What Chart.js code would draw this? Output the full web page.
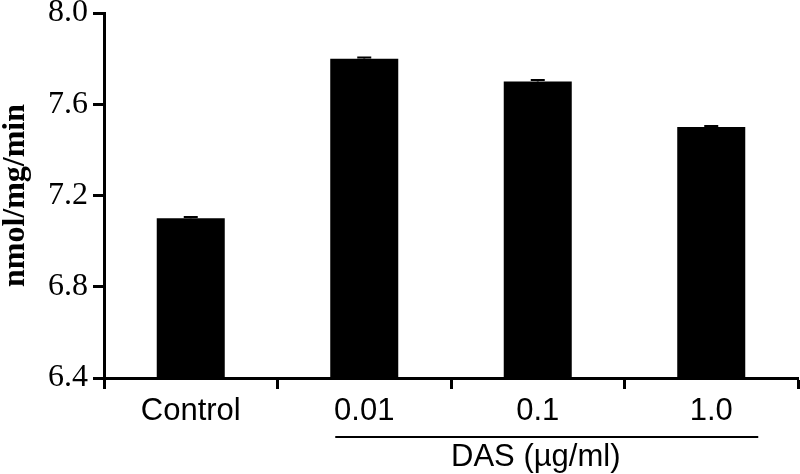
<!DOCTYPE html>
<html>
<head>
<meta charset="utf-8">
<script src="https://cdn.jsdelivr.net/npm/chart.js@4"></script>
<style>
  body { margin: 0; background: #fff; }
  #wrap { width: 800px; height: 474px; position: relative; }
</style>
</head>
<body>
<div id="wrap"><canvas id="activityChart"></canvas></div>
<script>
// data
const categories = ['Control', '0.01', '0.1', '1.0'];
const activity = [7.1, 7.8, 7.7, 7.5];
const activityErr = [0.006, 0.005, 0.006, 0.005];
const yTicks = [6.4, 6.8, 7.2, 7.6, 8.0];
const groupLabel = 'DAS (\u00b5g/ml)';

const serif = '"Liberation Serif", "Times New Roman", serif';
const sans = '"Liberation Sans", Arial, sans-serif';

// small error bars on top of each bar
const errorBars = {
    id: 'errorBars',
    afterDatasetsDraw(chart) {
        const { ctx, scales: { y } } = chart;
        const meta = chart.getDatasetMeta(0);
        ctx.save();
        ctx.strokeStyle = '#000';
        ctx.lineWidth = 2;
        meta.data.forEach((bar, i) => {
            const top = y.getPixelForValue(activity[i] + activityErr[i]);
            ctx.beginPath();
            ctx.moveTo(bar.x, bar.y);
            ctx.lineTo(bar.x, top);
            ctx.moveTo(bar.x - 7, top);
            ctx.lineTo(bar.x + 7, top);
            ctx.stroke();
        });
        ctx.restore();
    }
};

// bracket under the DAS doses with its label
const doseBracket = {
    id: 'doseBracket',
    afterDraw(chart) {
        const { ctx, scales: { x } } = chart;
        const x0 = x.getPixelForValue(1) - 29;
        const x1 = x.getPixelForValue(3) + 47;
        const yLine = x.top + 59;
        ctx.save();
        ctx.strokeStyle = '#000';
        ctx.lineWidth = 2;
        ctx.beginPath();
        ctx.moveTo(x0, yLine);
        ctx.lineTo(x1, yLine);
        ctx.stroke();
        ctx.fillStyle = '#000';
        ctx.font = '31px ' + sans;
        ctx.textAlign = 'center';
        ctx.textBaseline = 'middle';
        ctx.fillText(groupLabel, (x0 + x1) / 2 - 11, yLine + 20);
        ctx.restore();
    }
};

const ctx = document.getElementById('activityChart').getContext('2d');
new Chart(ctx, {
    type: 'bar',
    data: {
        labels: categories,
        datasets: [{
            data: activity,
            backgroundColor: '#000',
            borderWidth: 0,
            barPercentage: 0.392,
            categoryPercentage: 1
        }]
    },
    options: {
        responsive: true,
        maintainAspectRatio: false,
        animation: false,
        layout: { padding: { top: 13, right: 2, left: 0, bottom: 0 } },
        plugins: {
            legend: { display: false },
            tooltip: { enabled: false }
        },
        scales: {
            x: {
                grid: {
                    offset: true,
                    drawOnChartArea: false,
                    drawTicks: true,
                    tickLength: 11,
                    tickWidth: 3,
                    tickColor: '#000'
                },
                border: { display: true, color: '#000', width: 3 },
                ticks: {
                    color: '#000',
                    padding: 7,
                    font: { family: sans, size: 31, lineHeight: 1 }
                },
                afterFit(scale) {
                    scale.height = 96;
                    scale.paddingLeft = 0;
                    scale.paddingRight = 0;
                }
            },
            y: {
                min: yTicks[0],
                max: yTicks[yTicks.length - 1],
                afterBuildTicks(scale) {
                    scale.ticks = yTicks.map(v => ({ value: v }));
                },
                grid: {
                    drawOnChartArea: false,
                    drawTicks: true,
                    tickLength: 11,
                    tickWidth: 3,
                    tickColor: '#000'
                },
                border: { display: true, color: '#000', width: 3 },
                ticks: {
                    color: '#000',
                    padding: 5,
                    font: { family: serif, size: 32, lineHeight: 1 },
                    callback: v => Number(v).toFixed(1)
                },
                title: {
                    display: true,
                    text: 'nmol/mg/min',
                    color: '#000',
                    padding: 0,
                    font: { family: serif, size: 32, weight: 'bold', lineHeight: 1 }
                },
                afterFit(scale) {
                    scale.width = 104;
                    scale.paddingTop = 0;
                    scale.paddingBottom = 0;
                }
            }
        }
    },
    plugins: [errorBars, doseBracket]
});
</script>
</body>
</html>
